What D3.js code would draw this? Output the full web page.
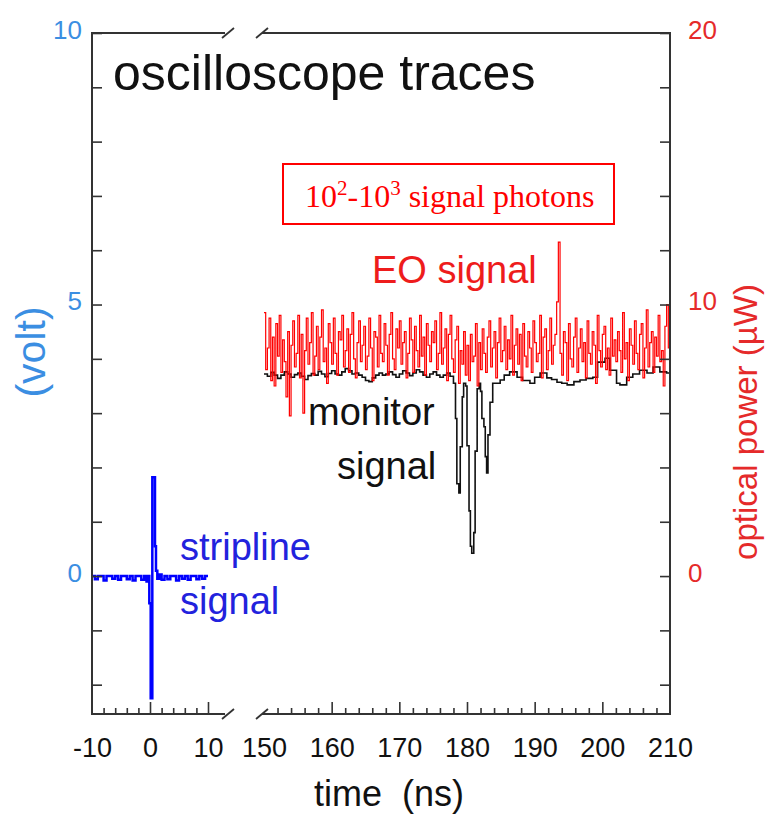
<!DOCTYPE html>
<html>
<head>
<meta charset="utf-8">
<script src="https://cdn.jsdelivr.net/npm/d3@7"></script>
<style>
  body { margin: 0; background: white; }
  svg { display: block; }
  text { font-family: "Liberation Sans", Arial, sans-serif; }
</style>
</head>
<body>
<div id="chart"></div>
<script>
// stripline signal (volt), time in ns
var stripT = [-10,-9.5,-9,-8.5,-8,-7.5,-7,-6.5,-6,-5.5,-5,-4.5,-4,-3.5,-3,-2.5,-2,-1.5,-1,-0.6,-0.3,-0.12,0.12,0.4,0.86,1.03,1.26,1.6,2,2.5,3,3.5,4,4.5,5,5.5,6,6.5,7,7.5,8,8.5,9,9.5,10];
var stripV = [0,-0.06,0,0,-0.08,0,0,-0.05,0,-0.07,0,0,-0.06,0,-0.08,0,0,-0.07,0,-0.1,0,-0.5,-2.25,1.82,0.55,0.1,-0.05,0.03,-0.07,0,-0.06,0,0,-0.08,0,-0.05,0,-0.07,0,0,-0.06,0,-0.05,0,0];

// monitor signal (volt)
var monT = [150,150.5,151,151.5,152,152.5,153,153.5,154,154.5,155,155.5,156,156.5,157,157.5,158,158.5,159,159.5,160,160.5,161,161.5,162,162.5,163,163.5,164,164.5,165,165.5,166,166.5,167,167.5,168,168.5,169,169.5,170,170.5,171,171.5,172,172.5,173,173.5,174,174.5,175,175.5,176,176.5,177,177.5,178,178.3,178.5,178.8,179,179.3,179.5,179.8,180,180.3,180.5,180.7,181,181.2,181.5,181.8,182,182.2,182.5,182.7,182.9,183.1,183.4,183.8,184.9,185.5,186.3,187.4,188.2,189.3,190,190.8,191.8,192.5,193.3,194,194.8,195.8,196.7,197.6,198.6,199.3,200.4,201.1,202.1,202.6,203.6,204.5,205.5,206.6,207.5,208.5,209.5,210];
var monV = [3.72,3.68,3.75,3.70,3.64,3.70,3.76,3.72,3.66,3.71,3.74,3.68,3.62,3.69,3.73,3.70,3.77,3.72,3.67,3.73,3.78,3.72,3.70,3.76,3.82,3.78,3.72,3.74,3.70,3.66,3.60,3.58,3.65,3.70,3.74,3.70,3.72,3.76,3.71,3.66,3.72,3.78,3.74,3.69,3.74,3.80,3.76,3.70,3.66,3.72,3.76,3.70,3.66,3.70,3.74,3.68,3.55,2.90,1.70,1.53,2.38,3.30,3.55,3.50,2.40,1.20,0.55,0.42,0.80,2.30,3.45,3.55,3.40,2.90,2.75,2.20,1.90,2.60,3.20,3.55,3.61,3.70,3.76,3.66,3.60,3.55,3.66,3.74,3.65,3.62,3.57,3.55,3.52,3.58,3.61,3.64,3.66,3.94,4.01,3.79,3.55,3.52,3.66,3.72,3.79,3.74,3.85,3.76,3.74,3.74];

// EO signal (optical power, uW), one value every 0.25 ns from 150 ns
var eoStart = 150, eoStep = 0.25;
var eoV = [9.7,7.6,8.4,9.5,7.2,8.8,7.0,9.3,8.1,9.6,
           7.5,8.7,7.9,6.6,9.0,5.9,8.5,9.4,7.7,8.2,
           9.6,7.3,8.9,6.0,8.3,9.5,7.8,8.6,9.7,7.4,
           8.1,9.2,7.6,8.8,9.8,7.9,8.4,7.1,9.3,8.6,
           7.8,9.5,8.2,7.4,9.0,8.7,9.6,7.7,8.3,9.1,
           7.5,8.9,9.7,8.0,7.3,8.6,9.4,7.9,8.5,9.2,
           7.6,8.1,9.5,8.4,7.2,9.0,8.8,7.7,9.6,8.2,
           7.9,9.3,8.5,7.4,8.9,9.7,8.0,7.6,9.1,8.4,
           9.4,7.8,8.6,9.0,7.3,8.2,9.5,8.7,7.5,9.2,
           8.3,7.7,9.6,8.1,8.8,7.4,9.3,8.5,7.9,9.0,
           8.6,9.4,7.6,8.2,9.7,7.8,8.4,9.1,7.2,8.9,
           9.6,8.0,7.5,8.7,9.2,7.1,8.3,7.8,9.0,7.4,
           8.5,7.2,8.9,7.9,8.1,9.3,7.0,8.6,7.6,9.1,
           8.2,7.5,8.8,9.4,7.7,8.4,9.0,7.3,8.6,9.5,
           7.9,8.3,9.2,7.6,8.7,8.0,9.6,7.4,8.5,9.1,
           7.8,8.9,7.2,9.3,8.1,7.7,9.0,8.4,7.5,9.4,
           8.6,7.9,8.2,9.6,7.3,8.8,9.1,7.6,8.3,9.5,
           7.8,8.5,8.9,10.1,12.3,8.2,7.4,9.0,8.6,7.2,
           9.3,8.0,7.7,8.8,9.5,7.5,8.4,9.1,7.9,8.6,
           7.3,9.4,8.2,7.8,9.0,8.5,7.1,9.6,8.3,7.7,
           8.9,9.2,7.6,8.4,7.4,9.5,8.1,8.7,7.9,9.0,
           8.3,7.5,9.7,8.0,8.6,7.2,9.1,8.5,7.8,9.4,
           8.2,7.6,8.9,9.3,7.3,8.4,9.8,7.7,8.6,9.0,
           7.5,8.8,8.1,9.6,7.9,8.3,7.0,9.2,10.0,8.4,
           6.3];

var leftTicks = d3.range(-2, 11, 1);
var leftLabels = [0, 5, 10];
var rightTicks = d3.range(-4, 21, 2);
var rightLabels = [0, 10, 20];
var x1Minor = [-8,-6,-4,-2,2,4,6,8];
var x1Major = [0, 10];
var x1Labels = [-10, 0, 10];
var x2Minor = [152,154,156,158,162,164,166,168,172,174,176,178,182,184,186,188,192,194,196,198,202,204,206,208];
var x2Major = [160,170,180,190,200];
var x2Labels = [150,160,170,180,190,200,210];

var W = 767, H = 818;
var plotTop = 33, plotBottom = 714, plotLeft = 92, plotRight = 670;

var svg = d3.select("#chart").append("svg")
    .attr("width", W).attr("height", H);

var yL = d3.scaleLinear().domain([-2.54, 10]).range([plotBottom, plotTop]);
var yR = d3.scaleLinear().domain([-5.08, 20]).range([plotBottom, plotTop]);
var x1 = d3.scaleLinear().domain([-10, 10]).range([plotLeft, 208]);
var x2 = d3.scaleLinear().domain([150, 210]).range([264, plotRight]);

var frameColor = "#333";
var blueLabel = "#3b8ee2";
var redLabel = "#e52a2a";

// traces
var monLine = d3.line()
    .x((d, i) => x2(monT[i]))
    .y(d => yL(d))
    .curve(d3.curveStepAfter);
svg.append("path")
    .datum(monV)
    .attr("d", monLine)
    .attr("fill", "none")
    .attr("stroke", "#111")
    .attr("stroke-width", 1.6);

var eoLine = d3.line()
    .x((d, i) => x2(eoStart + i * eoStep))
    .y(d => yR(d))
    .curve(d3.curveStepAfter);
svg.append("path")
    .datum(eoV)
    .attr("d", eoLine)
    .attr("fill", "none")
    .attr("stroke", "#ff0000")
    .attr("stroke-width", 1.2);

var stripLine = d3.line()
    .x((d, i) => x1(stripT[i]))
    .y(d => yL(d))
    .curve(d3.curveStepAfter);
svg.append("path")
    .datum(stripV)
    .attr("d", stripLine)
    .attr("fill", "none")
    .attr("stroke", "#0000ff")
    .attr("stroke-width", 2.5);

// frame with axis break
var gapA = 225, gapB = 262;
[[plotLeft, gapA], [gapB, plotRight]].forEach(seg => {
    [plotTop, plotBottom].forEach(yy => {
        svg.append("line")
            .attr("x1", seg[0]).attr("x2", seg[1])
            .attr("y1", yy).attr("y2", yy)
            .attr("stroke", frameColor).attr("stroke-width", 2);
    });
});
[plotLeft, plotRight].forEach(xx => {
    svg.append("line")
        .attr("x1", xx).attr("x2", xx)
        .attr("y1", plotTop - 1).attr("y2", plotBottom + 1)
        .attr("stroke", frameColor).attr("stroke-width", 2);
});
[gapA + 3, gapB].forEach(cx => {
    [plotTop, plotBottom].forEach(yy => {
        svg.append("line")
            .attr("x1", cx - 6).attr("x2", cx + 6)
            .attr("y1", yy + 5).attr("y2", yy - 5)
            .attr("stroke", frameColor).attr("stroke-width", 1.8);
    });
});

function styleAxis(g, color, size) {
    g.select(".domain").remove();
    g.selectAll(".tick line").attr("stroke", frameColor).attr("stroke-width", 1.6);
    g.selectAll(".tick text")
        .attr("fill", color)
        .style("font-family", '"Liberation Sans", Arial, sans-serif')
        .style("font-size", size + "px");
}

// left axis
var gL = svg.append("g").attr("transform", `translate(${plotLeft},0)`)
    .call(d3.axisLeft(yL).tickValues(leftTicks).tickSizeInner(-10).tickSizeOuter(0).tickPadding(10)
        .tickFormat(d => leftLabels.includes(d) ? d : ""));
styleAxis(gL, blueLabel, 26);
gL.selectAll(".tick text").attr("dy", "0.2em");

// right axis
var gR = svg.append("g").attr("transform", `translate(${plotRight},0)`)
    .call(d3.axisRight(yR).tickValues(rightTicks).tickSizeInner(-10).tickSizeOuter(0).tickPadding(18)
        .tickFormat(d => rightLabels.includes(d) ? d : ""));
styleAxis(gR, redLabel, 26);
gR.selectAll(".tick text").attr("dy", "0.2em");

// bottom axes
function bottomAxis(scale, vals, size, fmt, pad) {
    var g = svg.append("g").attr("transform", `translate(0,${plotBottom})`)
        .call(d3.axisBottom(scale).tickValues(vals).tickSizeInner(size).tickSizeOuter(0)
            .tickPadding(pad).tickFormat(fmt));
    styleAxis(g, "#111", 27);
    return g;
}
bottomAxis(x1, x1Minor, -6, () => "", 0);
bottomAxis(x1, x1Major, -12, () => "", 0);
bottomAxis(x1, x1Labels, 0, d => d, 24).selectAll(".tick line").remove();
bottomAxis(x2, x2Minor, -6, () => "", 0);
bottomAxis(x2, x2Major, -12, () => "", 0);
bottomAxis(x2, x2Labels, 0, d => d, 24).selectAll(".tick line").remove();

// axis titles
svg.append("text")
    .attr("x", 389).attr("y", 806)
    .attr("text-anchor", "middle")
    .style("font-size", "36px").style("white-space", "pre")
    .attr("fill", "#111")
    .text("time  (ns)");

svg.append("text")
    .attr("transform", "translate(45,352) rotate(-90)")
    .attr("text-anchor", "middle")
    .style("font-size", "41px")
    .attr("fill", blueLabel)
    .text("(volt)");

svg.append("text")
    .attr("transform", "translate(757,422) rotate(-90)")
    .attr("text-anchor", "middle")
    .style("font-size", "33px")
    .attr("fill", redLabel)
    .text("optical power (µW)");

// title and annotations
svg.append("text")
    .attr("x", 113).attr("y", 90)
    .style("font-size", "50px")
    .attr("fill", "#111")
    .text("oscilloscope traces");

svg.append("rect")
    .attr("x", 283).attr("y", 164).attr("width", 331).attr("height", 60)
    .attr("fill", "white").attr("stroke", "#ff0000").attr("stroke-width", 2);

var box = svg.append("text")
    .attr("x", 305).attr("y", 207)
    .style("font-family", '"Liberation Serif", "Times New Roman", serif')
    .style("font-size", "32px")
    .attr("fill", "#ff0000");
box.append("tspan").text("10");
box.append("tspan").attr("dy", -12).style("font-size", "21px").text("2");
box.append("tspan").attr("dy", 12).text("-10");
box.append("tspan").attr("dy", -12).style("font-size", "21px").text("3");
box.append("tspan").attr("dy", 12).text(" signal photons");

svg.append("text")
    .attr("x", 372).attr("y", 283)
    .style("font-size", "38px")
    .attr("fill", "#ee1c1c")
    .text("EO signal");

svg.append("text")
    .attr("x", 308).attr("y", 425)
    .style("font-size", "38px")
    .attr("fill", "#111")
    .text("monitor");
svg.append("text")
    .attr("x", 337).attr("y", 479)
    .style("font-size", "38px")
    .attr("fill", "#111")
    .text("signal");

svg.append("text")
    .attr("x", 180).attr("y", 560)
    .style("font-size", "38px")
    .attr("fill", "#2222dd")
    .text("stripline");
svg.append("text")
    .attr("x", 180).attr("y", 614)
    .style("font-size", "38px")
    .attr("fill", "#2222dd")
    .text("signal");
</script>
</body>
</html>
